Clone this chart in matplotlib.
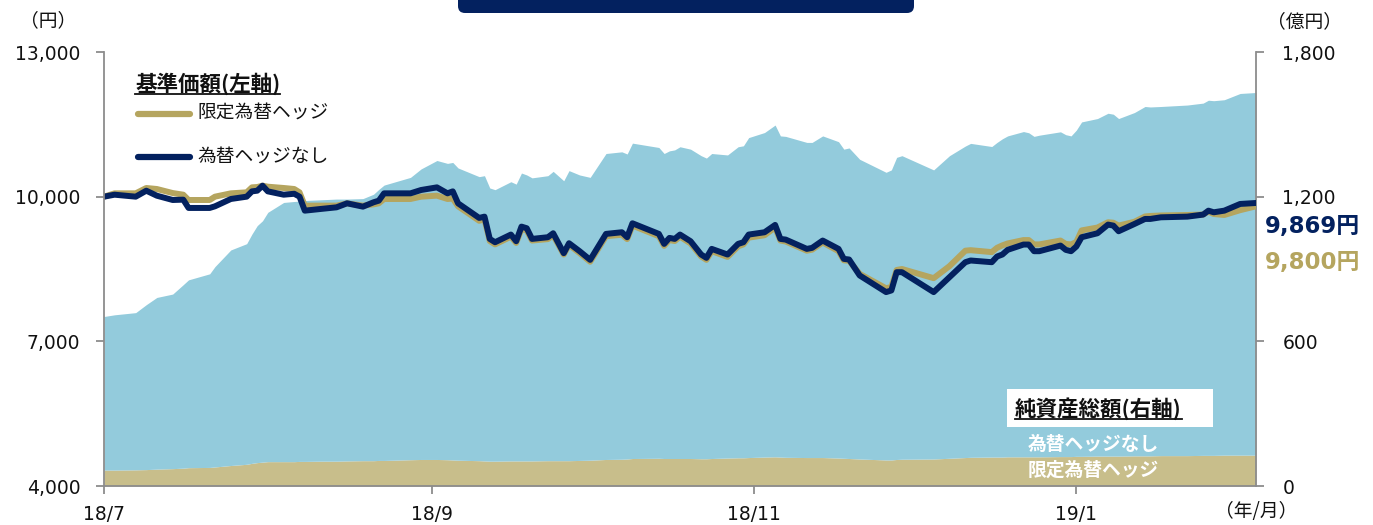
import matplotlib
matplotlib.use("Agg")
import matplotlib.pyplot as plt
from matplotlib.patches import FancyBboxPatch, Rectangle
from matplotlib.lines import Line2D
from matplotlib.ticker import FuncFormatter
import pandas as pd

plt.rcParams['font.family'] = ['DejaVu Sans', 'Noto Sans CJK JP']
JP = ['Noto Sans CJK JP', 'DejaVu Sans']

# --- data ---
dates = [
    "2018-07-01", "2018-07-03", "2018-07-07", "2018-07-09", "2018-07-11", "2018-07-14", "2018-07-16", "2018-07-17", "2018-07-21", "2018-07-22",
    "2018-07-25", "2018-07-28", "2018-07-29", "2018-07-30", "2018-07-31", "2018-08-01", "2018-08-04", "2018-08-06", "2018-08-07", "2018-08-08",
    "2018-08-11", "2018-08-14", "2018-08-16", "2018-08-19", "2018-08-21", "2018-08-22", "2018-08-23", "2018-08-28", "2018-08-30", "2018-09-02",
    "2018-09-04", "2018-09-05", "2018-09-06", "2018-09-10", "2018-09-11", "2018-09-12", "2018-09-13", "2018-09-16", "2018-09-17", "2018-09-18",
    "2018-09-19", "2018-09-20", "2018-09-23", "2018-09-24", "2018-09-26", "2018-09-27", "2018-09-29", "2018-10-01", "2018-10-04", "2018-10-07",
    "2018-10-08", "2018-10-09", "2018-10-14", "2018-10-15", "2018-10-16", "2018-10-17", "2018-10-18", "2018-10-20", "2018-10-22", "2018-10-23",
    "2018-10-24", "2018-10-27", "2018-10-29", "2018-10-30", "2018-10-31", "2018-11-03", "2018-11-05", "2018-11-06", "2018-11-07", "2018-11-11",
    "2018-11-12", "2018-11-14", "2018-11-17", "2018-11-18", "2018-11-19", "2018-11-21", "2018-11-26", "2018-11-27", "2018-11-28", "2018-11-29",
    "2018-12-05", "2018-12-08", "2018-12-11", "2018-12-12", "2018-12-16", "2018-12-17", "2018-12-18", "2018-12-19", "2018-12-22", "2018-12-23",
    "2018-12-24", "2018-12-25", "2018-12-29", "2018-12-30", "2018-12-31", "2019-01-01", "2019-01-02", "2019-01-05", "2019-01-07", "2019-01-08",
    "2019-01-09", "2019-01-12", "2019-01-14", "2019-01-15", "2019-01-17", "2019-01-22", "2019-01-25", "2019-01-26", "2019-01-27", "2019-01-29",
    "2019-02-01", "2019-02-04",
]

# 基準価額 為替ヘッジなし (円)
nav_unhedged = [
    10000, 10041, 10000, 10124, 10020, 9931, 9938, 9766, 9766, 9800,
    9952, 10000, 10110, 10124, 10228, 10110, 10041, 10060, 10000, 9710,
    9745, 9779, 9862, 9793, 9883, 9917, 10069, 10069, 10138, 10193,
    10069, 10110, 9862, 9559, 9586, 9124, 9055, 9214, 9076, 9379,
    9345, 9124, 9159, 9241, 8828, 9034, 8869, 8690, 9228, 9262,
    9159, 9448, 9228, 9021, 9145, 9124, 9214, 9076, 8800, 8731,
    8917, 8800, 9021, 9055, 9214, 9262, 9414, 9124, 9110, 8917,
    8938, 9090, 8917, 8710, 8697, 8366, 8021, 8055, 8434, 8434,
    8021, 8331, 8641, 8676, 8641, 8759, 8800, 8897, 9007, 9007,
    8869, 8869, 8986, 8897, 8869, 8966, 9159, 9241, 9421, 9400,
    9283, 9434, 9538, 9538, 9572, 9586, 9628, 9710, 9676, 9710,
    9849, 9869,
]

# 基準価額 限定為替ヘッジ (円)
nav_hedged = [
    10000, 10069, 10069, 10180, 10159, 10075, 10041, 9931, 9931, 10000,
    10069, 10090, 10193, 10200, 10228, 10207, 10180, 10159, 10090, 9814,
    9814, 9814, 9862, 9814, 9840, 9862, 9952, 9952, 10000, 10021,
    9952, 9960, 9800, 9500, 9530, 9080, 9010, 9170, 9040, 9330,
    9300, 9090, 9120, 9200, 8800, 9000, 8830, 8650, 9180, 9210,
    9120, 9400, 9180, 8980, 9100, 9080, 9170, 9030, 8760, 8690,
    8870, 8750, 8970, 9010, 9150, 9200, 9360, 9090, 9070, 8880,
    8900, 9050, 8870, 8680, 8670, 8400, 8100, 8130, 8480, 8500,
    8310, 8560, 8880, 8890, 8850, 8940, 8990, 9030, 9100, 9100,
    9010, 9010, 9090, 9020, 9010, 9060, 9300, 9360, 9470, 9460,
    9400, 9480, 9590, 9600, 9610, 9620, 9630, 9690, 9640, 9620,
    9720, 9800,
]

# 純資産総額 限定為替ヘッジ (億円)
aum_hedged = [
    66, 66, 67, 68, 70, 72, 74, 76, 77, 79,
    85, 90, 94, 97, 99, 101, 101, 101, 102, 102,
    103, 103, 104, 105, 105, 106, 106, 109, 110, 110,
    109, 108, 107, 105, 104, 103, 103, 104, 104, 104,
    104, 104, 105, 105, 105, 105, 106, 107, 110, 111,
    112, 114, 115, 114, 114, 114, 114, 114, 113, 113,
    114, 116, 117, 117, 118, 120, 121, 120, 119, 118,
    118, 118, 116, 115, 114, 112, 108, 108, 110, 111,
    112, 115, 118, 119, 120, 120, 120, 121, 121, 121,
    121, 121, 122, 122, 122, 123, 123, 124, 124, 124,
    124, 125, 125, 125, 126, 126, 127, 127, 127, 128,
    128, 128,
]

# 純資産総額 合計 (限定為替ヘッジ + 為替ヘッジなし, 億円)
aum_total = [
    703, 710, 719, 752, 782, 796, 835, 855, 880, 910,
    979, 1005, 1045, 1080, 1100, 1135, 1176, 1180, 1182, 1184,
    1187, 1190, 1190, 1192, 1210, 1230, 1248, 1280, 1315, 1350,
    1338, 1342, 1319, 1283, 1287, 1236, 1229, 1262, 1252, 1298,
    1290, 1278, 1287, 1305, 1266, 1308, 1290, 1280, 1379, 1386,
    1377, 1422, 1404, 1379, 1390, 1394, 1407, 1397, 1370, 1360,
    1379, 1373, 1407, 1411, 1445, 1466, 1497, 1452, 1450, 1425,
    1425, 1452, 1428, 1397, 1402, 1355, 1301, 1311, 1363, 1370,
    1311, 1370, 1410, 1421, 1408, 1425, 1440, 1452, 1470, 1465,
    1450, 1455, 1469, 1457, 1452, 1476, 1510, 1524, 1546, 1542,
    1524, 1549, 1574, 1572, 1574, 1580, 1588, 1600, 1598, 1602,
    1628, 1632,
]

tick_dates = ["2018-07-01", "2018-09-01", "2018-11-01", "2019-01-01"]
tick_labels = ["18/7", "18/9", "18/11", "19/1"]

NAVY = "#03215F"
GOLD_LINE = "#B5A55F"
GOLD_AREA = "#C8BE8B"
BLUE_AREA = "#93CBDC"
SPINE = "#8C8C8C"

W, H = 1373, 525


def fx(x):
    return x / W


def fy(y):
    return 1 - y / H


fig = plt.figure(figsize=(W / 100, H / 100), dpi=100)
ax = fig.add_axes([fx(104), fy(486), (1256 - 104) / W, (486 - 52) / H])
ax2 = ax.twinx()
ax.set_zorder(ax2.get_zorder() + 1)
ax.patch.set_visible(False)

x = pd.to_datetime(dates)
ax2.fill_between(x, 0, aum_hedged, color=GOLD_AREA, lw=0)
ax2.fill_between(x, aum_hedged, aum_total, color=BLUE_AREA, lw=0)

ax.plot(x, nav_hedged, color=GOLD_LINE, lw=4.3)
ax.plot(x, nav_unhedged, color=NAVY, lw=4.3)

ax.set_xlim(x[0], x[-1])
ax.set_ylim(4000, 13000)
ax2.set_ylim(0, 1800)
ax.set_yticks([4000, 7000, 10000, 13000])
ax2.set_yticks([0, 600, 1200, 1800])
fmt = FuncFormatter(lambda v, p: f"{v:,.0f}")
ax.yaxis.set_major_formatter(fmt)
ax2.yaxis.set_major_formatter(fmt)
ax.set_xticks(pd.to_datetime(tick_dates))
ax.set_xticklabels(tick_labels)

for s in ['top', 'right']:
    ax.spines[s].set_visible(False)
for s in ['top', 'left', 'bottom']:
    ax2.spines[s].set_visible(False)
for s in [ax.spines['left'], ax.spines['bottom'], ax2.spines['right']]:
    s.set_color(SPINE)
    s.set_linewidth(1.3)

ax.tick_params(axis='y', length=6, width=1.3, color=SPINE, pad=11, labelsize=13.5, labelcolor='#111')
ax.tick_params(axis='x', length=6, width=1.3, color=SPINE, pad=8, labelsize=13.5, labelcolor='#111')
ax2.tick_params(axis='y', length=6, width=1.3, color=SPINE, pad=13, labelsize=13.5, labelcolor='#111')

# unit labels
fig.text(fx(48), fy(21), "（円）", family=JP, fontsize=13.5, ha='center', va='center', color='#111')
fig.text(fx(1305), fy(22), "（億円）", family=JP, fontsize=13.5, ha='center', va='center', color='#111')
fig.text(fx(1256), fy(512), "（年/月）", family=JP, fontsize=13.5, ha='center', va='center', color='#111')

# header box (cut off at the top)
fig.add_artist(FancyBboxPatch((458, H - 13), 456, 40, boxstyle="round,pad=0,rounding_size=7",
                              transform=None, facecolor=NAVY, edgecolor='none'))

# left legend
t_nav = fig.text(fx(135), fy(84), "基準価額(左軸)", family=JP, fontsize=15.5, fontweight='bold',
                 ha='left', va='center', color='#111')
fig.add_artist(Line2D([fx(138), fx(190)], [fy(114), fy(114)], color=GOLD_LINE, lw=4.5,
                      solid_capstyle='round', transform=fig.transFigure))
fig.text(fx(197), fy(112), "限定為替ヘッジ", family=JP, fontsize=13.5, ha='left', va='center', color='#111')
fig.add_artist(Line2D([fx(138), fx(190)], [fy(157), fy(157)], color=NAVY, lw=4.5,
                      solid_capstyle='round', transform=fig.transFigure))
fig.text(fx(197), fy(156), "為替ヘッジなし", family=JP, fontsize=13.5, ha='left', va='center', color='#111')

# latest values
fig.text(fx(1265), fy(227), "9,869円", family=['DejaVu Sans', 'Noto Sans CJK JP'], fontsize=16.5,
         fontweight='bold', ha='left', va='center', color=NAVY)
fig.text(fx(1265), fy(262), "9,800円", family=['DejaVu Sans', 'Noto Sans CJK JP'], fontsize=16.5,
         fontweight='bold', ha='left', va='center', color=GOLD_LINE)

# right legend (純資産総額)
fig.add_artist(Rectangle((fx(1007), fy(427)), (1213 - 1007) / W, (427 - 389) / H,
                         transform=fig.transFigure, facecolor='white', edgecolor='none', zorder=5))
t_aum = fig.text(fx(1015), fy(409), "純資産総額(右軸)", family=JP, fontsize=15.5, fontweight='bold',
                 ha='left', va='center', color='#111', zorder=6)
fig.text(fx(1028), fy(444), "為替ヘッジなし", family=JP, fontsize=13.5, fontweight='bold',
         ha='left', va='center', color='white', zorder=6)
fig.text(fx(1028), fy(470), "限定為替ヘッジ", family=JP, fontsize=13.5, fontweight='bold',
         ha='left', va='center', color='white', zorder=6)

# underlines
fig.canvas.draw()
for t in (t_nav, t_aum):
    bb = t.get_window_extent()
    fig.add_artist(Line2D([bb.x0, bb.x1], [bb.y0 + 1, bb.y0 + 1], color='#111', lw=1.3,
                          transform=None, zorder=7))

fig.savefig("out.png", dpi=100)
